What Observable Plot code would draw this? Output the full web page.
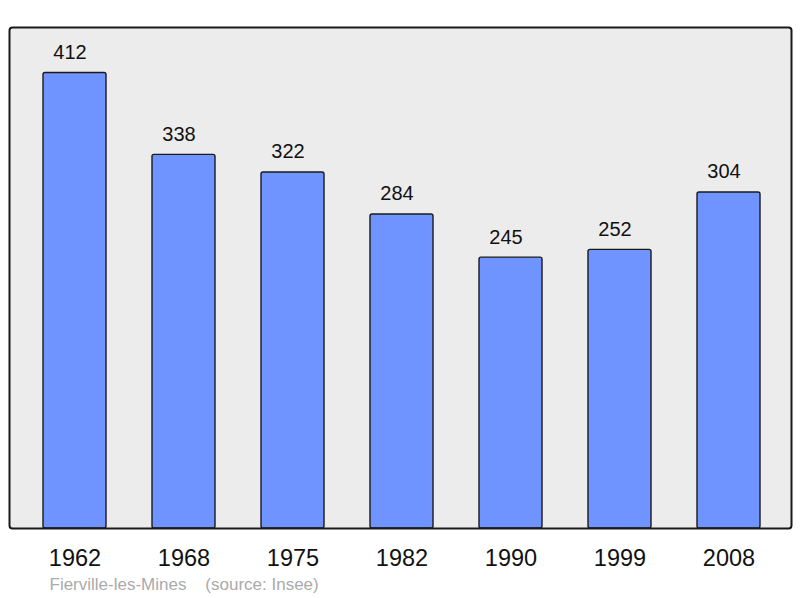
<!DOCTYPE html>
<html>
<head>
<meta charset="utf-8">
<script src="https://cdn.jsdelivr.net/npm/d3@7"></script>
<script src="https://cdn.jsdelivr.net/npm/@observablehq/plot@0.6"></script>
<style>
  html, body { margin: 0; padding: 0; background: #ffffff; }
  #chart svg { display: block; }
</style>
</head>
<body>
<div id="chart"></div>
<script>
const years = ["1962", "1968", "1975", "1982", "1990", "1999", "2008"];
const population = [412, 338, 322, 284, 245, 252, 304];
const commune = "Fierville-les-Mines";
const source = "(source: Insee)";

const data = years.map((y, i) => ({year: y, pop: population[i]}));

const chart = Plot.plot({
  width: 800,
  height: 598,
  marginLeft: 9,
  marginRight: 9,
  marginTop: 27,
  marginBottom: 70,
  style: {fontFamily: "'Liberation Sans', Arial, sans-serif", background: "#ffffff"},
  x: {domain: years, range: [8.7, 794.2], paddingInner: 0.42, paddingOuter: 0.3, label: null},
  y: {domain: [0, 412 * 1.1], axis: null},
  marks: [
    Plot.frame({fill: "#ececec", stroke: "none", rx: 3}),
    Plot.barY(data, {x: "year", y: "pop", fill: "#7094ff", stroke: "#1a1a1a", strokeWidth: 1.4, rx: 2}),
    Plot.text(data, {x: "year", y: "pop", text: d => String(d.pop), dy: -20.5, dx: -5, fontSize: 20, fill: "#111"}),
    Plot.frame({stroke: "#1a1a1a", strokeWidth: 2, rx: 3}),
    Plot.axisX({tickSize: 0, tickPadding: 21, fontSize: 23.5, label: null, color: "#111"}),
    Plot.text([commune + "    " + source], {frameAnchor: "bottom-left", dx: 40, dy: 61, fontSize: 17, fill: "#aaaaaa", textAnchor: "start"})
  ]
});
document.getElementById("chart").append(chart);
</script>
</body>
</html>
